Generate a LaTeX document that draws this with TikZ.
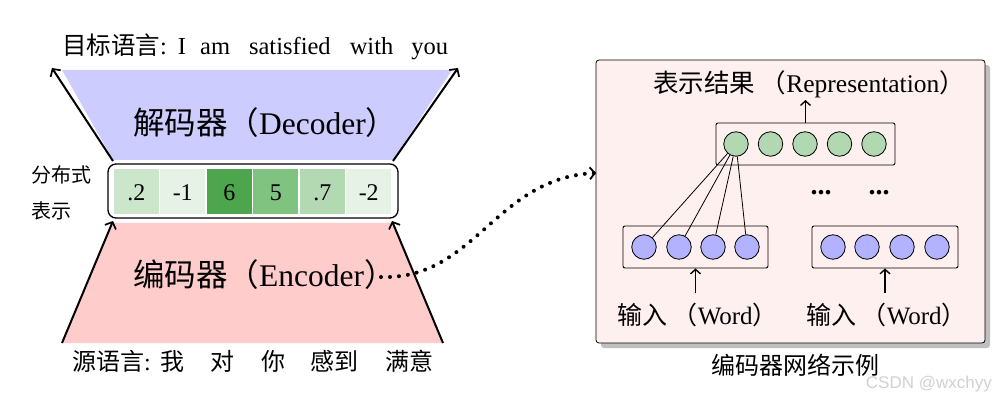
\documentclass[tikz,border=0pt]{standalone}
\usepackage{fontspec}
\setmainfont{Liberation Serif}
\newfontfamily\cjk{Noto Sans CJK SC}
\usetikzlibrary{arrows.meta,shadows}
\definecolor{decblue}{RGB}{204,204,255}
\definecolor{encpink}{RGB}{255,204,204}
\definecolor{cA}{RGB}{204,230,204}
\definecolor{cB}{RGB}{230,242,230}
\definecolor{cC}{RGB}{77,166,77}
\definecolor{cD}{RGB}{128,194,128}
\definecolor{cE}{RGB}{179,217,179}
\definecolor{panelbg}{RGB}{255,240,240}
\definecolor{gcirc}{RGB}{178,216,178}
\definecolor{bcirc}{RGB}{178,178,255}
\tikzset{
  bigarr/.style={line width=2pt,-{Straight Barb[length=5.5pt,width=12pt,line width=1.7pt]}},
  cell/.style={minimum width=45pt,minimum height=45pt,inner sep=0pt,font=\fontsize{24}{26}\selectfont},
  neuron/.style={circle,draw,line width=0.8pt,minimum size=24.5pt,inner sep=0pt},
  layerbox/.style={draw,line width=0.9pt,rounded corners=2pt,inner sep=0pt},
  smallarr/.style={line width=1.7pt,-{Straight Barb[length=4.5pt,width=10pt,line width=1.4pt]}},
}
\begin{document}
\begin{tikzpicture}[x=1pt,y=-1pt]
\useasboundingbox (0,0) rectangle (1005,401);

% decoder
\fill[decblue] (62,70) -- (452,70) -- (393,160) -- (113,160) -- cycle;
\coordinate (dl0) at (113,161); \coordinate (dl1) at (52,68);
\coordinate (dr0) at (393,161); \coordinate (dr1) at (458,68);
\draw[bigarr] (dl0) -- (dl1);
\draw[bigarr] (dr0) -- (dr1);

% encoder
\fill[encpink] (113,223) -- (393,223) -- (443,343) -- (62,343) -- cycle;
\coordinate (el0) at (62,343); \coordinate (el1) at (113,221);
\coordinate (er0) at (443,343); \coordinate (er1) at (392,221);
\draw[bigarr] (el0) -- (el1);
\draw[bigarr] (er0) -- (er1);

% texts
\node[anchor=base west,inner sep=0pt,font=\fontsize{24.5}{26}\selectfont] (tgt) at (62,55)
  {{\cjk 目标语言}:\hspace{11pt}I\hspace{14pt}am\hspace{19pt}satisfied\hspace{19pt}with\hspace{18pt}you};
\node[anchor=base west,inner sep=0pt,font=\fontsize{31.5}{33}\selectfont] (dec) at (133,135)
  {{\cjk 解码器（}Decoder{\cjk ）}};
\node[anchor=base west,inner sep=0pt,font=\fontsize{31.5}{33}\selectfont] (enc) at (133,287)
  {{\cjk 编码器（}Encoder{\cjk ）}};
\node[anchor=base west,inner sep=0pt,font=\fontsize{24}{26}\selectfont\cjk] (src) at (72,370)
  {源语言{\rmfamily :}\hspace{10pt}我\hspace{26pt}对\hspace{27pt}你\hspace{25pt}感到\hspace{27pt}满意};
\node[anchor=west,inner sep=0pt,font=\fontsize{20}{22}\selectfont\cjk] (fb1) at (31,175) {分布式};
\node[anchor=west,inner sep=0pt,font=\fontsize{20}{22}\selectfont\cjk] (fb2) at (31,211) {表示};

% distributed vector
\node[draw,line width=1.3pt,rounded corners=8pt,minimum width=290pt,minimum height=54pt,fill=white] (vec) at (253,191) {};
\foreach \i/\v/\c in {0/.2/cA,1/-1/cB,2/6/cC,3/5/cD,4/.7/cE,5/-2/cB}{
  \node[cell,fill=\c] (v\i) at (136.25+\i*46.5,191.5) {};
  \node[anchor=base,inner sep=0pt,font=\fontsize{24}{26}\selectfont] (t\i) at (136.25+\i*46.5,200.5) {\v};
}

% right panel
\node[draw,line width=0.8pt,rounded corners=3pt,fill=panelbg,minimum width=389pt,minimum height=283pt,
  drop shadow={shadow xshift=5pt,shadow yshift=-5pt,fill=black!25,opacity=1}] (panel) at (790.5,201.5) {};

\node[anchor=base west,inner sep=0pt,font=\fontsize{25.5}{27}\selectfont] (rep) at (653,93)
  {{\cjk 表示结果 （}Representation{\cjk ）}};
\node[layerbox,minimum width=179pt,minimum height=42pt] (top) at (805.5,144) {};
\foreach \i in {1,...,5}{
  \node[neuron,fill=gcirc] (g\i) at (736+\i*34.5-34.5,144) {};
}
\coordinate (repb) at (805.5,100);
\draw[smallarr] (top.north) -- (repb);

\node[layerbox,minimum width=145pt,minimum height=42pt] (inA) at (695.5,247) {};
\node[layerbox,minimum width=146pt,minimum height=42pt] (inB) at (885,247) {};
\foreach \i/\x in {1/644,2/679,3/713,4/747}{
  \node[neuron,fill=bcirc] (a\i) at (\x,247) {};
}
\foreach \i/\x in {1/833,2/867,3/902,4/937}{
  \node[neuron,fill=bcirc] (b\i) at (\x,247) {};
}
\foreach \i in {1,...,4}{ \draw[line width=0.8pt] (g1) -- (a\i); }

\node[inner sep=0pt,font=\bfseries\fontsize{28}{30}\selectfont] (d1) at (821,193) {...};
\node[inner sep=0pt,font=\bfseries\fontsize{28}{30}\selectfont] (d2) at (879,193) {...};

\node[anchor=base west,inner sep=0pt,font=\fontsize{25}{27}\selectfont] (wA) at (617,324)
  {{\cjk 输入 （}Word{\cjk ）}};
\node[anchor=base west,inner sep=0pt,font=\fontsize{25}{27}\selectfont] (wB) at (806,324)
  {{\cjk 输入 （}Word{\cjk ）}};
\coordinate (wAt) at (695.5,293); \coordinate (wBt) at (885,293);
\draw[smallarr] (wAt) -- (inA.south);
\draw[smallarr] (wBt) -- (inB.south);

\node[anchor=base,inner sep=0pt,font=\fontsize{24}{26}\selectfont\cjk] (cap) at (795,374) {编码器网络示例};
\node[anchor=base east,inner sep=0pt,text=black!18,font=\fontsize{17}{18}\selectfont\fontspec{Liberation Sans}] (wm) at (992,388) {CSDN @wxchyy};

% dotted connector
\coordinate (dotS) at (381,277);
\coordinate (dotE) at (596,173);
\draw[line width=4pt,line cap=round,dash pattern=on 0pt off 9pt,-{Straight Barb[length=5pt,width=12pt,line width=1.8pt]}]
  (dotS) .. controls (475,280) and (495,178) .. (dotE);
\end{tikzpicture}
\end{document}
